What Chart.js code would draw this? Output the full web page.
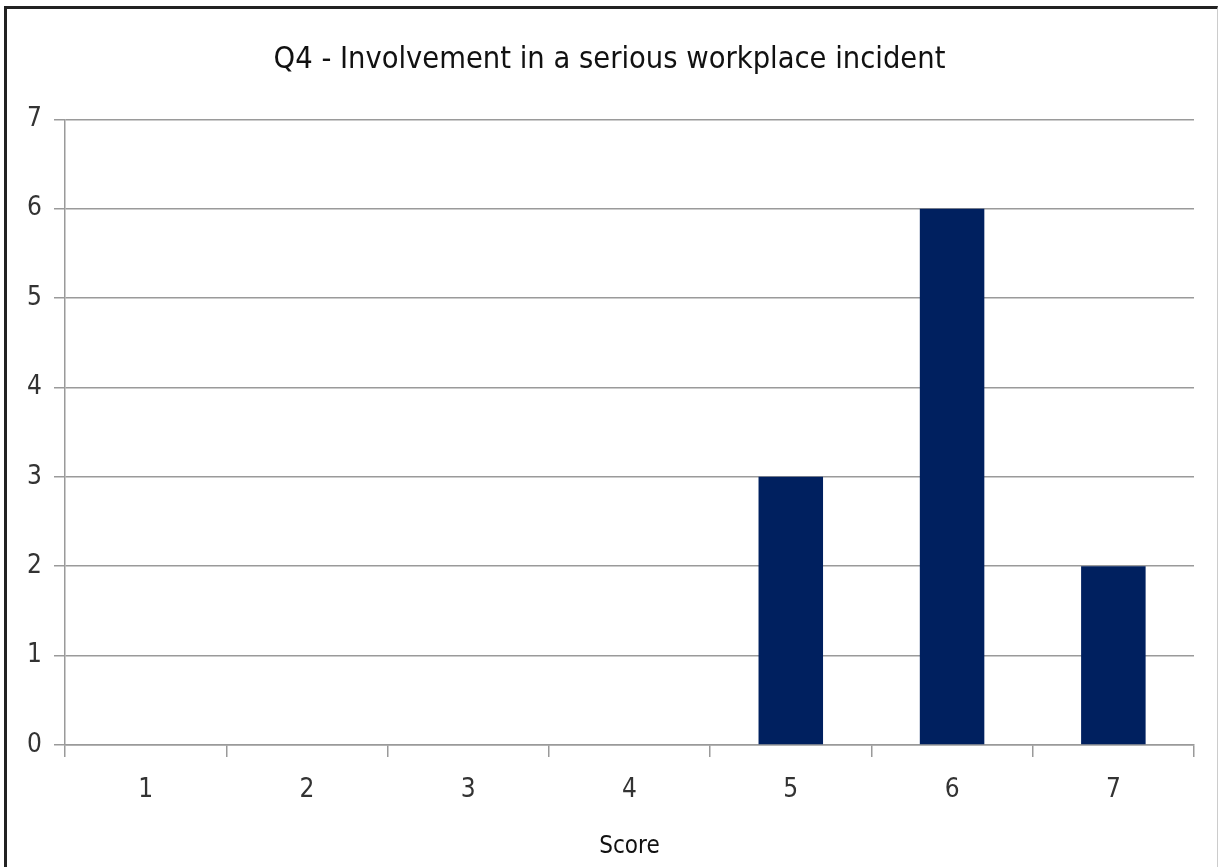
<!DOCTYPE html>
<html>
<head>
<meta charset="utf-8">
<script src="https://cdn.jsdelivr.net/npm/chart.js@4/dist/chart.umd.min.js"></script>
<style>
  html, body { margin: 0; padding: 0; background: #fff; }
  #wrap { position: relative; width: 1219px; height: 867px; overflow: hidden; }
  #frame {
    position: absolute; left: 4px; top: 6px; width: 1210px; height: 870px;
    border-left: 3px solid #222; border-top: 3px solid #222; border-right: 1px solid #ccc;
    pointer-events: none;
  }
</style>
</head>
<body>
<div id="wrap">
  <canvas id="chart" width="1219" height="867"></canvas>
  <div id="frame"></div>
</div>
<script>
// scores 1..7 and how many answers fell on each
const scores = ["1", "2", "3", "4", "5", "6", "7"];
const counts = [0, 0, 0, 0, 3, 6, 2];
const yMin = 0;
const yMax = 7;

const chartTitle = "Q4 - Involvement in a serious workplace incident";
const axisTitle = "Score";

const fontFamily = "'Liberation Sans Narrow', 'DejaVu Sans Condensed', 'Liberation Sans', sans-serif";
const lineGray = "#9a9a9a";

new Chart(document.getElementById("chart"), {
  type: "bar",
  data: {
    labels: scores,
    datasets: [{
      data: counts,
      backgroundColor: "#00205f",
      borderWidth: 0,
      barPercentage: 0.4,
      categoryPercentage: 1.0
    }]
  },
  options: {
    responsive: false,
    animation: false,
    layout: { padding: { top: 10, right: 25, bottom: 6, left: 25 } },
    plugins: {
      legend: { display: false },
      tooltip: { enabled: false },
      title: {
        display: true,
        text: chartTitle,
        color: "#111",
        font: { family: fontFamily, size: 30.5, weight: "normal" },
        padding: { top: 31.7, bottom: 41 }
      }
    },
    scales: {
      x: {
        grid: {
          offset: true,
          drawOnChartArea: false,
          drawTicks: true,
          tickLength: 12,
          color: lineGray,
          lineWidth: 1.5
        },
        border: { color: lineGray, width: 1.5 },
        ticks: {
          color: "#333",
          padding: 18,
          font: { family: fontFamily, size: 26 }
        },
        title: {
          display: true,
          text: axisTitle,
          color: "#111",
          font: { family: fontFamily, size: 24 },
          padding: { top: 8, bottom: 0 }
        }
      },
      y: {
        min: yMin,
        max: yMax,
        grid: {
          color: lineGray,
          lineWidth: 1.5,
          drawTicks: true,
          tickLength: 11
        },
        border: { color: lineGray, width: 1.5 },
        ticks: {
          stepSize: 1,
          color: "#333",
          padding: 12,
          font: { family: fontFamily, size: 26 }
        },
        afterFit(scale) { scale.width = 40; }
      }
    }
  }
});
</script>
</body>
</html>
